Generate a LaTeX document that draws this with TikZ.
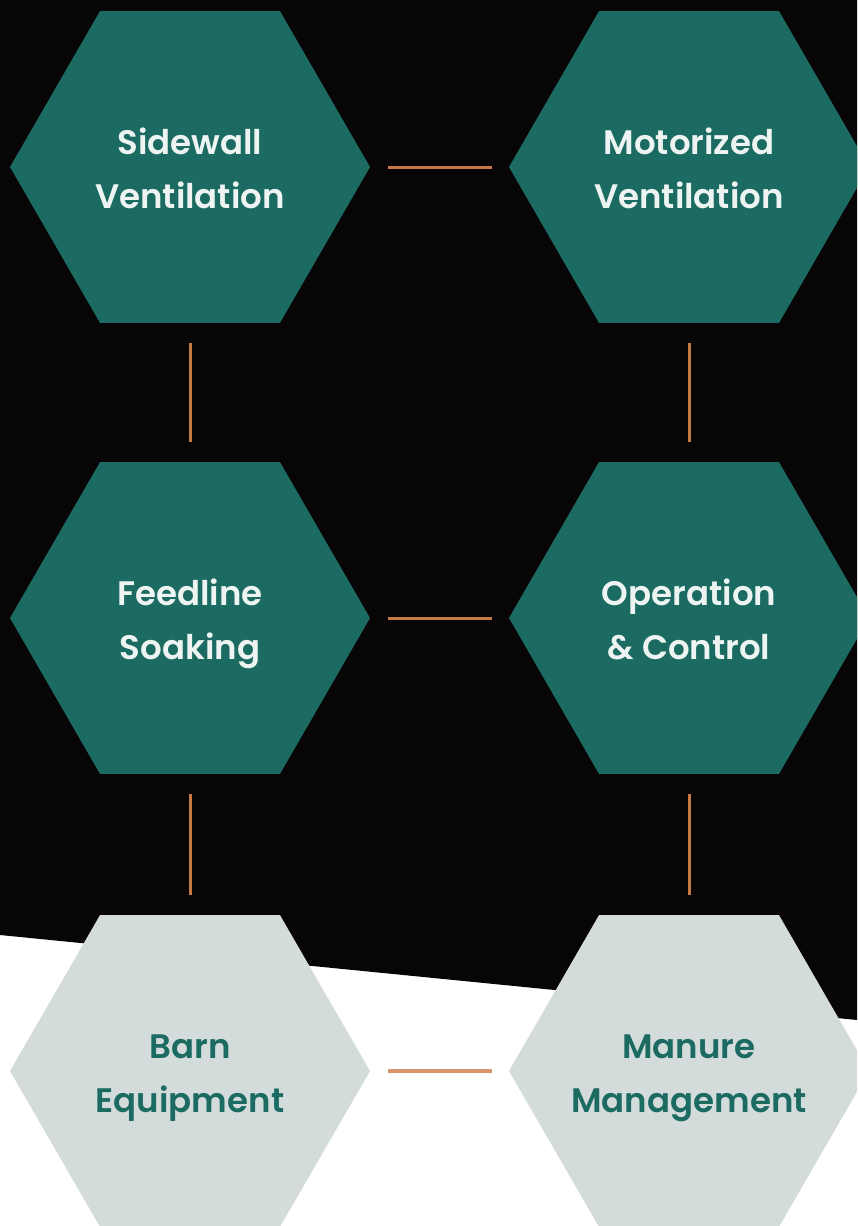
\documentclass[tikz,border=0pt]{standalone}
\usepackage{fontspec}
\setmainfont{Poppins}[BoldFont={Poppins SemiBold}]
\usetikzlibrary{shapes.geometric}

\definecolor{hexteal}{HTML}{1C6B62}
\definecolor{hexgrey}{HTML}{D4DCDB}
\definecolor{linkorange}{HTML}{C77A45}
\definecolor{linklight}{HTML}{D9956B}
\definecolor{bgdark}{HTML}{080506}
\definecolor{txtwhite}{HTML}{EEF4F1}

\tikzset{
  hex/.style={regular polygon, regular polygon sides=6, minimum size=360pt,
    inner sep=0pt},
  hextext/.style={align=center, inner sep=0pt, text height=82pt, text depth=0pt,
    font=\fontsize{34}{54}\selectfont\bfseries},
  darkhex/.style={hex, fill=hexteal, label={[hextext, text=txtwhite]center:{#1}}},
  lighthex/.style={hex, fill=hexgrey, label={[hextext, text=hexteal]center:{#1}}},
  link/.style={draw=linkorange, line width=3pt, shorten <=20pt, shorten >=20pt},
  hlink/.style={draw=linkorange, line width=3pt, shorten <=18pt, shorten >=17pt},
}

\begin{document}
\begin{tikzpicture}[x=1pt,y=-1pt]
            \useasboundingbox (0,0) rectangle (857,1226);
            \clip (0,0) rectangle (857,1226);
            % background, dark top and white bottom
            \fill[white] (0,0) rectangle (857,1226);
            \fill[bgdark] (0,0) -- (857,0) -- (857,1020) -- (0,935) -- cycle;

            \node[darkhex={Sidewall\\Ventilation}] (sw) at (190,167) {};
            \node[darkhex={Motorized\\Ventilation}] (mv) at (689,167) {};
            \node[darkhex={Feedline\\Soaking}] (fs) at (190,618) {};
            \node[darkhex={Operation\\\& Control}] (oc) at (689,618) {};
            \node[lighthex={Barn\\Equipment}] (be) at (190,1071) {};
            \node[lighthex={Manure\\Management}] (mm) at (689,1071) {};

            \draw[hlink] (sw.east) -- (mv.west);
            \draw[hlink] (fs.east) -- (oc.west);
            \draw[hlink, draw=linklight, line width=4pt] (be.east) -- (mm.west);

            \draw[link] (sw.south) -- (fs.north);
            \draw[link] (fs.south) -- (be.north);
            \draw[link] (mv.south) -- (oc.north);
            \draw[link] (oc.south) -- (mm.north);
        \end{tikzpicture}
\end{document}
